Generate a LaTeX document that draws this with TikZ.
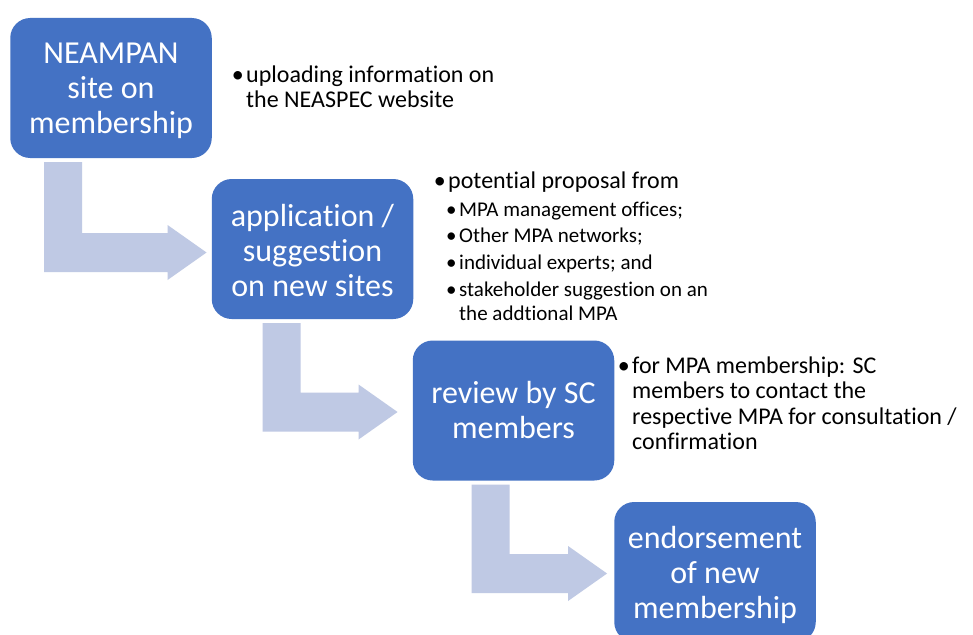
\documentclass[tikz,border=0pt]{standalone}
\usepackage{fontspec}
\setmainfont{Carlito}[Ligatures=NoCommon]
\usetikzlibrary{calc}

\definecolor{boxblue}{RGB}{68,114,196}
\definecolor{arrowtint}{RGB}{191,201,228}

\tikzset{
  stepbox/.style={fill=boxblue, rounded corners=20pt, minimum width=201.5pt,
    minimum height=140pt, inner sep=0pt},
  steptext/.style={text=white, align=center, inner sep=0pt,
    font=\fontsize{32}{35}\selectfont},
  flowarrow/.style={fill=arrowtint},
  note/.style={anchor=base west, inner sep=0pt, text=black,
    font=\fontsize{24}{25.5}\selectfont},
  subnote/.style={note, font=\fontsize{21}{24.7}\selectfont},
}

% bent block arrow: leaves the bottom of #1, points at the left side of #2
% #3 stem offset from the left edge of #1, #4 gap before #2, #5 drop of the tip
\newcommand\bentarrow[5]{%
  \fill[flowarrow] let \p1=([xshift=#3]#1.south west),
                       \p2=([xshift=-#4,yshift=-#5]#2.west) in
    (\x1,\y1-4pt) -- (\x1+38pt,\y1-4pt) -- (\x1+38pt,\y2+19.5pt)
    -- (\x2-39pt,\y2+19.5pt) -- (\x2-39pt,\y2+27.5pt) -- (\x2,\y2)
    -- (\x2-39pt,\y2-27.5pt) -- (\x2-39pt,\y2-19.5pt) -- (\x1,\y2-19.5pt)
    -- cycle;}

\newcommand\bpar[2]{\parbox[t]{#1}{\raggedright\leavevmode\llap{•\kern2.5pt}#2}}

\begin{document}
\begin{tikzpicture}[x=1pt, y=-1pt]
  \path[use as bounding box, fill=white] (0,0) rectangle (973,634);

  % process steps
  \node[stepbox] (b1) at (111,88)      {};
  \node[stepbox] (b2) at (312.5,249)   {};
  \node[stepbox] (b3) at (513.5,410.5) {};
  \node[stepbox] (b4) at (715,572)     {};
  \node[steptext, yshift=-2.5pt] (b1t) at (b1) {NEAMPAN\\site on\\membership};
  \node[steptext, yshift=-1.5pt] (b2t) at (b2) {application /\\suggestion\\on new sites};
  \node[steptext] (b3t) at (b3) {review by SC\\members};
  \node[steptext, yshift=-2.5pt] (b4t) at (b4) {endorsement\\of new\\membership};

  % step arrows
  \bentarrow{b1}{b2}{34pt}{5pt}{3.5pt}
  \bentarrow{b2}{b3}{51pt}{15pt}{1.5pt}
  \bentarrow{b3}{b4}{59pt}{7pt}{1.5pt}

  % notes beside the steps
  \node[note] (n1) at (246,82)
    {\bpar{300pt}{uploading information on\\the NEASPEC website}};

  \node[note] (n2) at (448,188) {\bpar{300pt}{potential proposal from}};
  \node[subnote] (n2a) at (459,216.7) {\bpar{300pt}{MPA management offices;}};
  \node[subnote] (n2b) at (459,242.7) {\bpar{300pt}{Other MPA networks;}};
  \node[subnote] (n2c) at (459,269)   {\bpar{300pt}{individual experts; and}};
  \node[subnote] (n2d) at (459,296)
    {\bpar{300pt}{stakeholder suggestion on an\\the addtional MPA}};

  \node[note] (n3) at (632,373)
    {\bpar{340pt}{for MPA membership: SC\\members to contact the\\respective MPA for consultation /\\confirmation}};
\end{tikzpicture}
\end{document}
